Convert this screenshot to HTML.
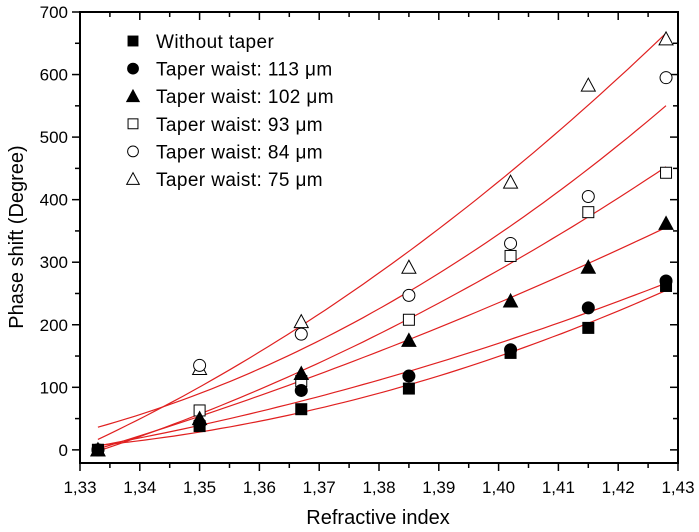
<!DOCTYPE html>
<html><head><meta charset="utf-8"><style>
body{margin:0;background:#fff}
svg{display:block;font-family:"Liberation Sans",Arial,sans-serif}
</style></head><body>
<svg id="chart" width="699" height="532"></svg>
<script>
const xs = [1.333,1.35,1.367,1.385,1.402,1.415,1.428];
const sNone = [0,38,65,98,155,195,262];
const s113 = [0,42,95,118,160,227,270];
const s102 = [0,50,122,175,238,292,362];
const s93 = [0,63,110,208,310,380,443];
const s84 = [0,135,185,247,330,405,595];
const s75 = [0,130,205,292,428,583,657];
const seriesNames = ["Without taper","Taper waist: 113 \u03bcm","Taper waist: 102 \u03bcm","Taper waist: 93 \u03bcm","Taper waist: 84 \u03bcm","Taper waist: 75 \u03bcm"];
const xTicks = [1.33,1.34,1.35,1.36,1.37,1.38,1.39,1.40,1.41,1.42,1.43];
const yTicks = [0,100,200,300,400,500,600,700];

const NS="http://www.w3.org/2000/svg";
const svg=document.getElementById('chart');
const L=80,R=678,T=12,B=463,xmin=1.33,xmax=1.43,ymin=-21,ymax=700;
const X=v=>L+(v-xmin)/(xmax-xmin)*(R-L);
const Y=v=>B-(v-ymin)/(ymax-ymin)*(B-T);
function el(tag,attrs,parent){const e=document.createElementNS(NS,tag);for(const k in attrs)e.setAttribute(k,attrs[k]);(parent||svg).appendChild(e);return e;}

const frame=el('rect',{x:L,y:T,width:R-L,height:B-T,fill:'none',stroke:'#000','stroke-width':2});



for(let i=0;i<xTicks.length;i++){
  const v=xTicks[i],px=X(v);
  el('line',{x1:px,y1:B,x2:px,y2:B+8,stroke:'#000','stroke-width':1.5});
  el('line',{x1:px,y1:T,x2:px,y2:T+8,stroke:'#000','stroke-width':1.5});
  if(i<xTicks.length-1){const m=X(v+0.005);
    el('line',{x1:m,y1:B,x2:m,y2:B+5,stroke:'#000','stroke-width':1.5});
    el('line',{x1:m,y1:T,x2:m,y2:T+5,stroke:'#000','stroke-width':1.5});}
  const t=el('text',{x:px,y:B+30,'text-anchor':'middle','font-size':17});
  t.textContent=v.toFixed(2).replace('.',',');
  
  
}
for(let i=0;i<yTicks.length;i++){
  const v=yTicks[i],py=Y(v);
  el('line',{x1:L-8,y1:py,x2:L,y2:py,stroke:'#000','stroke-width':1.5});
  el('line',{x1:R-8,y1:py,x2:R,y2:py,stroke:'#000','stroke-width':1.5});
  if(i<yTicks.length-1){const m=Y(v+50);
    el('line',{x1:L-5,y1:m,x2:L,y2:m,stroke:'#000','stroke-width':1.5});
    el('line',{x1:R-5,y1:m,x2:R,y2:m,stroke:'#000','stroke-width':1.5});}
  const t=el('text',{x:L-12,y:py+6,'text-anchor':'end','font-size':17});
  t.textContent=v;
  
  
}
const xl=el('text',{x:378,y:524,'text-anchor':'middle','font-size':20});
xl.textContent='Refractive index';


const yl=el('text',{x:0,y:0,'text-anchor':'middle','font-size':20,transform:'translate(23,237) rotate(-90)'});
yl.textContent='Phase shift (Degree)';



function fit(ys){
  const n=xs.length;let S=[0,0,0,0,0],Sy=[0,0,0];
  for(let i=0;i<n;i++){const u=xs[i]-1.38;for(let k=0;k<5;k++)S[k]+=Math.pow(u,k);for(let k=0;k<3;k++)Sy[k]+=ys[i]*Math.pow(u,k);}
  const M=[[S[0],S[1],S[2],Sy[0]],[S[1],S[2],S[3],Sy[1]],[S[2],S[3],S[4],Sy[2]]];
  for(let i=0;i<3;i++){for(let j=i+1;j<3;j++){const f=M[j][i]/M[i][i];for(let k=i;k<4;k++)M[j][k]-=f*M[i][k];}}
  const c=[0,0,0];for(let i=2;i>=0;i--){let s=M[i][3];for(let k=i+1;k<3;k++)s-=M[i][k]*c[k];c[i]=s/M[i][i];}
  return u=>c[0]+c[1]*(u-1.38)+c[2]*(u-1.38)*(u-1.38);
}
const all=[sNone,s113,s102,s93,s84,s75];
const shapes=['sq','ci','tr','sq','ci','tr'];
const filled=[true,true,true,false,false,false];
all.forEach((ys,si)=>{
  const f=fit(ys);let d='';
  for(let k=0;k<=60;k++){const v=1.333+(1.428-1.333)*k/60;d+=(k?'L':'M')+X(v).toFixed(1)+','+Y(f(v)).toFixed(1);}
  const p=el('path',{d:d,fill:'none',stroke:'#e02020','stroke-width':1.2});
  
  
});
function marker(shape,fill,cx,cy,parent,s){
  s=s||1;
  const a={fill:fill?'#000':'#fff',stroke:'#000','stroke-width':1};
  if(shape==='sq')return el('rect',Object.assign({x:cx-5.5*s,y:cy-5.5*s,width:11*s,height:11*s},a),parent);
  if(shape==='ci')return el('circle',Object.assign({cx:cx,cy:cy,r:6*s},a),parent);
  return el('polygon',Object.assign({points:`${cx},${cy-7*s} ${cx-7*s},${cy+6*s} ${cx+7*s},${cy+6*s}`},a),parent);
}
[5,4,3,2,1,0].forEach(si=>{
  const ys=all[si];
  const g=el('g',{});
  
  
  ys.forEach((v,i)=>{const m=marker(shapes[si],filled[si],X(xs[i]),Y(v),g);
    
    });
});
seriesNames.forEach((nm,si)=>{
  const y=41+si*27.6;
  const g=el('g',{});
  
  
  marker(shapes[si],filled[si],133,y,g,0.9);
  const t=el('text',{x:156,y:y+7,'font-size':19,'letter-spacing':0.4},g);t.textContent=nm;
});
</script>
</body></html>
